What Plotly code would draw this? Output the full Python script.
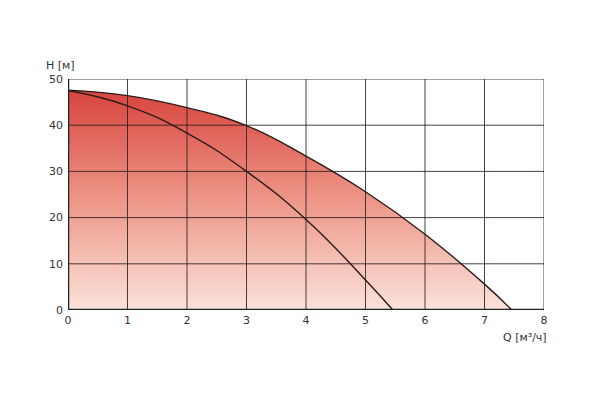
import plotly.graph_objects as go

# Outer (max speed) curve
q_outer = [0, 1, 2, 3, 4, 5, 6, 7, 7.46]
h_outer = [47.6, 46.4, 43.8, 39.9, 33.3, 25.6, 16.4, 5.6, 0]

# Inner curve
q_inner = [0, 1, 2, 3, 4, 5, 5.46]
h_inner = [47.5, 44.2, 38.3, 30.0, 19.6, 6.5, 0]

x_ticks = [0, 1, 2, 3, 4, 5, 6, 7, 8]
y_ticks = [0, 10, 20, 30, 40, 50]

fig = go.Figure()
fig.add_trace(go.Scatter(
    x=q_outer, y=h_outer, mode="lines",
    line=dict(color="#2a1a1a", width=1.4, shape="spline", smoothing=1.3),
    fill="tozeroy",
    fillgradient=dict(type="vertical", start=0, stop=max(h_outer),
                      colorscale=[[0, "rgb(250,226,218)"], [0.5, "rgb(237,150,135)"],
                                  [1, "rgb(216,68,62)"]]),
    hoverinfo="skip", showlegend=False))
fig.add_trace(go.Scatter(
    x=q_inner, y=h_inner, mode="lines",
    line=dict(color="#2a1a1a", width=1.4, shape="spline", smoothing=1.3),
    hoverinfo="skip", showlegend=False))

grid_col = "rgba(40,30,30,0.85)"
shapes = []
for xv in x_ticks[1:]:
    shapes.append(dict(type="line", xref="x", yref="y", x0=xv, x1=xv, y0=0, y1=50,
                       line=dict(color=grid_col, width=1), layer="above"))
for yv in y_ticks[1:]:
    shapes.append(dict(type="line", xref="x", yref="y", x0=0, x1=8, y0=yv, y1=yv,
                       line=dict(color=grid_col, width=1), layer="above"))
# thick left and bottom axis lines
shapes.append(dict(type="line", xref="x", yref="y", x0=0, x1=8, y0=0, y1=0,
                   line=dict(color="#222", width=2.5), layer="above"))
shapes.append(dict(type="line", xref="x", yref="y", x0=0, x1=0, y0=0, y1=50,
                   line=dict(color="#222", width=2.5), layer="above"))

font = dict(family="DejaVu Sans, Verdana, sans-serif", size=11, color="#333")

# page body has a default 8px margin, so the figure is offset by (8, 8)
fig.update_layout(
    width=576, height=386,
    margin=dict(l=60, r=40, t=71, b=84),
    plot_bgcolor="white", paper_bgcolor="white",
    font=font,
    shapes=shapes,
    xaxis=dict(range=[0, 8], tickvals=x_ticks, showgrid=False, zeroline=False,
               showline=False, ticks="", ticklabelstandoff=2),
    yaxis=dict(range=[0, 50], tickvals=y_ticks, showgrid=False, zeroline=False,
               showline=False, ticks="", ticklabelstandoff=4),
    annotations=[
        dict(text="H [м]", xref="paper", yref="paper", x=-0.01, y=1.0,
             xanchor="center", yanchor="bottom", yshift=5, xshift=-3,
             showarrow=False, font=font),
        dict(text="Q [м³/ч]", xref="paper", yref="paper", x=1.01, y=0,
             xanchor="right", yanchor="top", yshift=-19,
             showarrow=False, font=font),
    ],
)

fig.write_html("out.html")
